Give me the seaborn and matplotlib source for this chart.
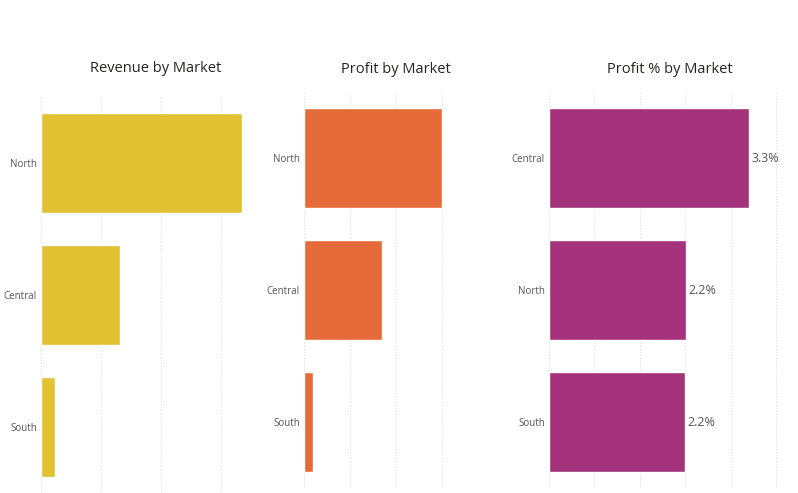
import matplotlib
matplotlib.use("Agg")
import matplotlib.pyplot as plt
import seaborn as sns
import pandas as pd

sns.set_theme(style="white")
plt.rcParams['font.family'] = ['Open Sans', 'DejaVu Sans']

rev_markets = ["North", "Central", "South"]
rev_values = [3.35, 1.32, 0.23]
profit_markets = ["North", "Central", "South"]
profit_values = [3.0, 1.7, 0.2]
pct_markets = ["Central", "North", "South"]
pct_values = [3.3, 2.26, 2.24]
pct_labels = ["3.3%", "2.2%", "2.2%"]

W, H = 798, 493
fig = plt.figure(figsize=(W / 100, H / 100), dpi=100)

def add_ax(x0, x1, ytop, ybot):
    return fig.add_axes([x0 / W, 1 - ybot / H, (x1 - x0) / W, (ybot - ytop) / H])

panels = [
    (add_ax(41, 270, 97, 493), rev_markets, rev_values, "#E0C232", "Revenue by Market", 3.82, 1.0),
    (add_ax(304, 488, 92, 488), profit_markets, profit_values, "#E56C38", "Profit by Market", 4.0, 1.0),
    (add_ax(549, 790, 92, 488), pct_markets, pct_values, "#A5337B", "Profit % by Market", 3.98, 0.75),
]

for i, (ax, cats, vals, color, title, xmax, step) in enumerate(panels):
    df = pd.DataFrame({"market": cats, "value": vals})
    sns.barplot(data=df, y="market", x="value", color=color, width=0.76,
                saturation=1, ax=ax, orient="h")
    ax.set_xlim(0, xmax)
    ax.set_xticks([k * step for k in range(int(xmax / step) + 1)])
    ax.xaxis.grid(True, linestyle=":", color="#dddddd", linewidth=0.8)
    ax.set_axisbelow(True)
    ax.set_xticklabels([])
    ax.tick_params(axis="x", length=0)
    ax.tick_params(axis="y", length=0, labelsize=7, colors="#555555", pad=3)
    ax.set_xlabel("")
    ax.set_ylabel("")
    for s in ax.spines.values():
        s.set_visible(False)
    ax.set_title(title, fontsize=10.5, color="#252423", pad=18 if i == 0 else 14)

pax = panels[2][0]
for j, (v, lab) in enumerate(zip(pct_values, pct_labels)):
    pax.text(v + 0.05, j, lab, va="bottom" if False else "center", ha="left",
             fontsize=9, color="#555555")

fig.savefig("out.png", dpi=100)
